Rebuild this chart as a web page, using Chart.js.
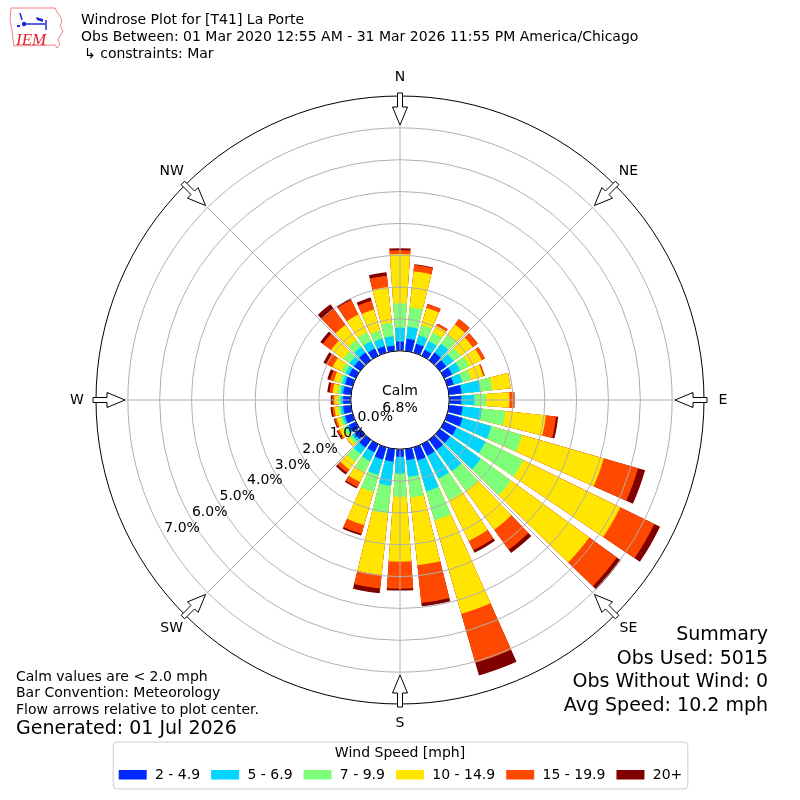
<!DOCTYPE html>
<html>
<head>
<meta charset="utf-8">
<title>Windrose Plot for [T41] La Porte</title>
<script src="https://cdn.jsdelivr.net/npm/chart.js@4.4.1/dist/chart.umd.min.js"></script>
<style>
  html, body { margin: 0; padding: 0; background: #fff; }
  #wrap { width: 800px; height: 800px; }
</style>
</head>
<body>
<div id="wrap"><canvas id="windrose" width="800" height="800"></canvas></div>
<script>
// bar directions, degrees clockwise from north
const directions = [0, 10, 20, 30, 40, 50, 60, 70, 80, 90, 100, 110, 120, 130, 140, 150, 160, 170,
                    180, 190, 200, 210, 220, 230, 240, 250, 260, 270, 280, 290, 300, 310, 320, 330, 340, 350];

const speedBins = ['2 - 4.9', '5 - 6.9', '7 - 9.9', '10 - 14.9', '15 - 19.9', '20+'];
const binColors = ['#0028ff', '#00d4ff', '#7dff7a', '#ffe500', '#ff4800', '#800000'];

// frequency (% of obs) per direction for each speed bin
const freq2to5 = [0.29, 0.39, 0.29, 0.21, 0.30, 0.25, 0.28, 0.21, 0.40, 0.38, 0.43, 0.50, 0.43, 0.40, 0.40, 0.40, 0.43, 0.35,
                  0.24, 0.40, 0.40, 0.28, 0.30, 0.22, 0.24, 0.25, 0.25, 0.24, 0.25, 0.25, 0.24, 0.24, 0.30, 0.25, 0.21, 0.17];
const freq5to7 = [0.44, 0.38, 0.28, 0.30, 0.34, 0.28, 0.28, 0.28, 0.59, 0.41, 0.61, 0.94, 1.01, 1.19, 0.82, 0.80, 1.01, 0.53,
                  0.52, 0.76, 0.50, 0.31, 0.25, 0.10, 0.10, 0.08, 0.08, 0.07, 0.08, 0.09, 0.12, 0.17, 0.22, 0.26, 0.25, 0.30];
const freq7to10 = [0.76, 0.61, 0.33, 0.30, 0.34, 0.28, 0.31, 0.29, 0.37, 0.37, 0.74, 1.00, 1.32, 1.17, 0.75, 0.75, 0.94, 0.65,
                   0.73, 0.87, 0.56, 0.38, 0.30, 0.10, 0.10, 0.08, 0.08, 0.08, 0.10, 0.11, 0.15, 0.25, 0.26, 0.31, 0.27, 0.43];
const freq10to15 = [1.55, 1.14, 0.56, 0.24, 0.41, 0.47, 0.44, 0.39, 0.59, 0.73, 1.28, 2.67, 3.39, 3.04, 1.52, 1.43, 3.06, 2.14,
                    2.04, 1.95, 1.08, 0.35, 0.30, 0.10, 0.13, 0.12, 0.12, 0.13, 0.15, 0.17, 0.30, 0.47, 0.59, 0.62, 0.68, 1.12];
const freq15to20 = [0.12, 0.20, 0.13, 0.08, 0.21, 0.19, 0.11, 0.05, 0.00, 0.16, 0.32, 1.12, 1.19, 1.07, 0.77, 0.32, 1.60, 1.19,
                    0.85, 0.43, 0.28, 0.18, 0.13, 0.01, 0.07, 0.06, 0.07, 0.06, 0.10, 0.12, 0.23, 0.32, 0.61, 0.51, 0.29, 0.36];
const freq20plus = [0.06, 0.02, 0.00, 0.00, 0.00, 0.00, 0.00, 0.00, 0.00, 0.00, 0.07, 0.23, 0.20, 0.15, 0.13, 0.09, 0.41, 0.11,
                    0.06, 0.15, 0.06, 0.05, 0.07, 0.00, 0.03, 0.03, 0.05, 0.05, 0.07, 0.09, 0.09, 0.10, 0.19, 0.05, 0.10, 0.11];

const calmPercent = 6.8;
const ringTicks = [0, 1, 2, 3, 4, 5, 6, 7];
const outerRing = 8;
const compassPoints = ['N', 'NE', 'E', 'SE', 'S', 'SW', 'W', 'NW'];

const titleLines = [
    'Windrose Plot for [T41] La Porte',
    'Obs Between: 01 Mar 2020 12:55 AM - 31 Mar 2026 11:55 PM America/Chicago',
    '\u21b3 constraints: Mar'
];
const noteLines = ['Calm values are < 2.0 mph', 'Bar Convention: Meteorology', 'Flow arrows relative to plot center.'];
const generatedLine = 'Generated: 01 Jul 2026';
const summaryLines = ['Summary', 'Obs Used: 5015', 'Obs Without Wind: 0', 'Avg Speed: 10.2 mph'];
const legendTitle = 'Wind Speed [mph]';

// look
const BAR_DEG = 8;          // width of one direction bar
const GAP_DEG = 2;          // empty wedge between bars
const CALM_HOLE = 1.545;    // radial room (in % units) reserved for the calm circle
const GRID_GRAY = '#b0b0b0';
const FONT = '"DejaVu Sans", sans-serif';

const binSeries = [freq2to5, freq5to7, freq7to10, freq10to15, freq15to20, freq20plus];

// bars are stacked, so each dataset reaches out to the running total
function cumulative(level) {
    return directions.map((d, i) =>
        binSeries.slice(0, level + 1).reduce((sum, arr) => sum + arr[i], 0));
}

// every bar is followed by an empty slot, which gives the gap between bars
function withGaps(values) {
    return values.flatMap(v => [v, null]);
}

function toXY(scale, deg, dist) {
    const rad = deg * Math.PI / 180;
    return { x: scale.xCenter + dist * Math.sin(rad), y: scale.yCenter - dist * Math.cos(rad) };
}

function drawArrow(ctx, scale, deg) {
    const R = scale.drawingArea;
    const rad = deg * Math.PI / 180;
    const u = [Math.sin(rad), -Math.cos(rad)];
    const p = [Math.cos(rad), Math.sin(rad)];
    const shape = [[R + 3, -2.5], [R - 11, -2.5], [R - 11, -7.5], [R - 29, 0],
                   [R - 11, 7.5], [R - 11, 2.5], [R + 3, 2.5]];
    ctx.beginPath();
    shape.forEach(([d, w], i) => {
        const x = scale.xCenter + d * u[0] + w * p[0];
        const y = scale.yCenter + d * u[1] + w * p[1];
        if (i === 0) ctx.moveTo(x, y); else ctx.lineTo(x, y);
    });
    ctx.closePath();
    ctx.fillStyle = '#fff';
    ctx.fill();
    ctx.strokeStyle = '#000';
    ctx.lineWidth = 1;
    ctx.stroke();
}

function roundedBox(ctx, x, y, w, h, r) {
    ctx.beginPath();
    ctx.moveTo(x + r, y);
    ctx.lineTo(x + w - r, y);
    ctx.arcTo(x + w, y, x + w, y + r, r);
    ctx.lineTo(x + w, y + h - r);
    ctx.arcTo(x + w, y + h, x + w - r, y + h, r);
    ctx.lineTo(x + r, y + h);
    ctx.arcTo(x, y + h, x, y + h - r, r);
    ctx.lineTo(x, y + r);
    ctx.arcTo(x, y, x + r, y, r);
    ctx.closePath();
}

function drawLogo(ctx) {
    // rough Iowa outline with the IEM mark
    const outline = [[11, 8], [55, 8], [57, 12], [60, 16], [62, 21], [60, 26], [63, 31], [60, 36],
                     [58, 40], [60, 44], [57, 48], [55, 45], [14, 46], [13, 40], [12, 30], [10, 20]];
    ctx.beginPath();
    outline.forEach(([x, y], i) => i ? ctx.lineTo(x, y) : ctx.moveTo(x, y));
    ctx.closePath();
    ctx.strokeStyle = '#f08080';
    ctx.lineWidth = 1;
    ctx.stroke();

    ctx.strokeStyle = '#1a2bd6';
    ctx.fillStyle = '#1a2bd6';
    ctx.lineWidth = 1.5;
    ctx.beginPath();
    ctx.moveTo(22, 24); ctx.lineTo(45, 24);
    ctx.moveTo(20, 13); ctx.lineTo(22, 20);
    ctx.moveTo(46, 20); ctx.lineTo(46, 30);
    ctx.stroke();
    ctx.beginPath(); ctx.arc(24, 24, 2.2, 0, Math.PI * 2); ctx.fill();
    ctx.beginPath(); ctx.moveTo(36, 17); ctx.lineTo(43, 19); ctx.lineTo(43, 22); ctx.lineTo(37, 20); ctx.closePath(); ctx.fill();
    ctx.fillRect(17, 25, 3, 2);

    ctx.fillStyle = '#e0202a';
    ctx.font = 'italic 17px "Liberation Serif", serif';
    ctx.textAlign = 'left';
    ctx.textBaseline = 'alphabetic';
    ctx.fillText('IEM', 16, 45);
}

const windroseDecor = {
    id: 'windroseDecor',
    afterDatasetsDraw(chart) {
        const scale = chart.scales.r;
        const ctx = chart.ctx;
        ctx.save();
        ctx.strokeStyle = GRID_GRAY;
        ctx.lineWidth = 1;
        compassPoints.forEach((name, i) => {
            const end = toXY(scale, i * 45, scale.drawingArea);
            ctx.beginPath();
            ctx.moveTo(scale.xCenter, scale.yCenter);
            ctx.lineTo(end.x, end.y);
            ctx.stroke();
        });
        ctx.restore();
    },
    afterDraw(chart) {
        const scale = chart.scales.r;
        const ctx = chart.ctx;
        ctx.save();

        // calm circle
        const calmR = scale.getDistanceFromCenterForValue(0);
        ctx.beginPath();
        ctx.arc(scale.xCenter, scale.yCenter, calmR, 0, Math.PI * 2);
        ctx.fillStyle = '#fff';
        ctx.fill();
        ctx.strokeStyle = '#000';
        ctx.lineWidth = 1;
        ctx.stroke();

        ctx.fillStyle = '#000';
        ctx.font = '14px ' + FONT;
        ctx.textAlign = 'center';
        ctx.textBaseline = 'middle';
        ctx.fillText('Calm', scale.xCenter, scale.yCenter - 9);
        ctx.fillText(calmPercent.toFixed(1) + '%', scale.xCenter, scale.yCenter + 8);

        // ring labels
        ctx.textAlign = 'left';
        ringTicks.forEach(v => {
            const pos = toXY(scale, 240, scale.getDistanceFromCenterForValue(v));
            ctx.fillText(v.toFixed(1) + '%', pos.x, pos.y - 7.5);
        });

        // compass arrows and names
        ctx.textAlign = 'center';
        compassPoints.forEach((name, i) => {
            drawArrow(ctx, scale, i * 45);
            const pos = toXY(scale, i * 45, scale.drawingArea + 19);
            ctx.fillStyle = '#000';
            ctx.fillText(name, pos.x, pos.y);
        });

        // header
        drawLogo(ctx);
        ctx.fillStyle = '#000';
        ctx.font = '14px ' + FONT;
        ctx.textAlign = 'left';
        ctx.textBaseline = 'middle';
        titleLines.forEach((line, i) => ctx.fillText(line, i === 2 ? 84 : 81, 20 + i * 17));

        // notes, bottom left
        noteLines.forEach((line, i) => ctx.fillText(line, 16, 677 + i * 16.5));
        ctx.font = '19px ' + FONT;
        ctx.fillText(generatedLine, 16, 729);

        // summary, bottom right
        ctx.textAlign = 'right';
        summaryLines.forEach((line, i) => ctx.fillText(line, 768, 635 + i * 23.7));

        // legend
        ctx.font = '14px ' + FONT;
        const handle = 28, pad = 8.3, colSpace = 11;
        const widths = speedBins.map(s => ctx.measureText(s).width);
        const total = widths.reduce((s, w) => s + handle + pad + w, 0) + colSpace * (speedBins.length - 1);
        const startX = 400.5 - total / 2;
        roundedBox(ctx, startX - 5.5, 742, total + 11, 47, 4);
        ctx.fillStyle = 'rgba(255,255,255,0.8)';
        ctx.fill();
        ctx.strokeStyle = '#cccccc';
        ctx.lineWidth = 1;
        ctx.stroke();

        ctx.fillStyle = '#000';
        ctx.textAlign = 'center';
        ctx.fillText(legendTitle, 400, 753);
        ctx.textAlign = 'left';
        let x = startX;
        speedBins.forEach((label, i) => {
            ctx.fillStyle = binColors[i];
            ctx.fillRect(x, 770, handle, 9.5);
            ctx.fillStyle = '#000';
            ctx.fillText(label, x + handle + pad, 775);
            x += handle + pad + widths[i] + colSpace;
        });

        ctx.restore();
    }
};

Chart.defaults.font.family = FONT;

new Chart(document.getElementById('windrose'), {
    type: 'polarArea',
    data: {
        labels: directions.flatMap(d => [d + '\u00b0', '']),
        datasets: speedBins.map((label, k) => ({
            label: label,
            data: withGaps(cumulative(k)),
            backgroundColor: binColors[k],
            borderWidth: 0,
            angle: ctx => (ctx.dataIndex % 2 === 0 ? BAR_DEG : GAP_DEG)
        }))
    },
    options: {
        responsive: false,
        animation: false,
        devicePixelRatio: 1,
        layout: { padding: { left: 96, right: 96, top: 96, bottom: 96 } },
        scales: {
            r: {
                min: -CALM_HOLE,
                max: outerRing,
                startAngle: -BAR_DEG / 2,
                ticks: { display: false },
                angleLines: { display: false },
                pointLabels: { display: false },
                grid: {
                    z: 1,
                    circular: true,
                    lineWidth: 1,
                    color: ctx => (ctx.tick && ctx.tick.value === outerRing ? '#000' : GRID_GRAY)
                },
                afterBuildTicks: scale => {
                    scale.ticks = ringTicks.concat([outerRing]).map(v => ({ value: v }));
                }
            }
        },
        plugins: {
            legend: { display: false },
            tooltip: { enabled: false }
        }
    },
    plugins: [windroseDecor]
});
</script>
</body>
</html>
